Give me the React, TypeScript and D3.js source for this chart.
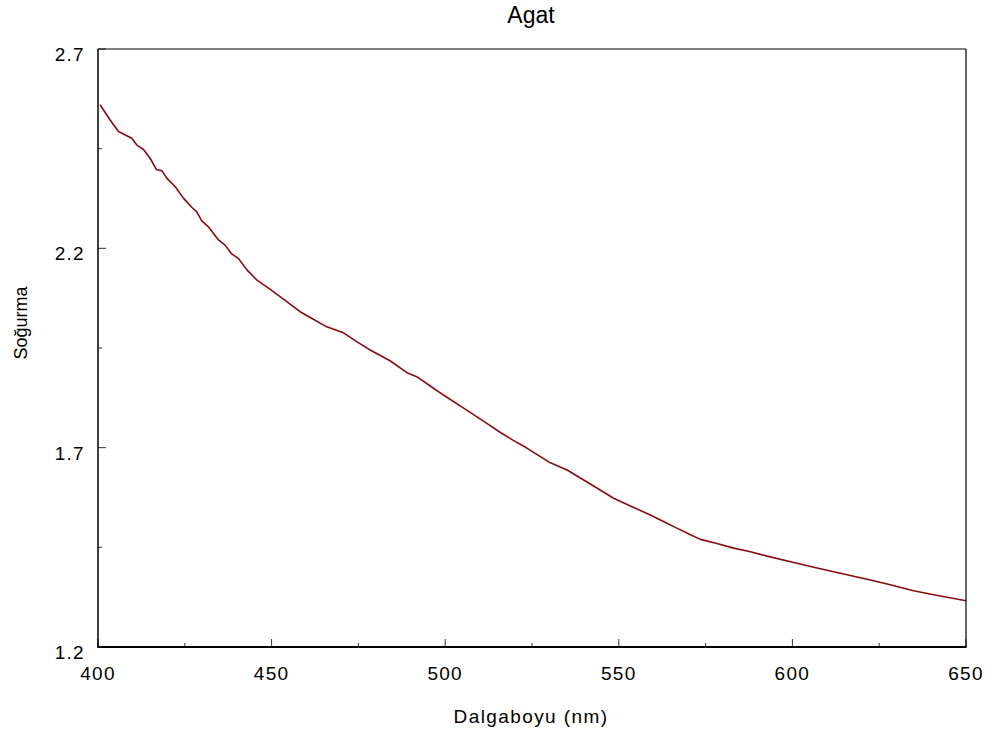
import React from "react";
import * as d3 from "d3";

// Absorbance spectrum of agate
const wavelengths = [
  400.6, 403.5, 405.9, 409.7, 411.2, 413.1, 415.0, 416.9, 418.4, 419.8,
  422.2, 424.6, 427.0, 428.4, 429.9, 431.8, 434.7, 436.6, 438.5, 440.4,
  442.9, 445.7, 449.6, 453.5, 458.2, 462.0, 465.9, 470.7, 474.5, 478.4,
  484.1, 489.0, 491.8, 495.5, 499.5, 505.3, 512.0, 515.9, 519.5, 523.5,
  530.3, 535.1, 541.8, 548.5, 553.5, 559.1, 563.0, 567.0, 570.5, 573.5,
  578.0, 583.1, 587.9, 592.7, 600.4, 607.1, 613.8, 621.5, 627.3, 634.9,
  640.7, 650.0,
];
const absorbance = [
  2.560, 2.522, 2.493, 2.476, 2.459, 2.448, 2.426, 2.397, 2.395, 2.376,
  2.355, 2.326, 2.303, 2.292, 2.269, 2.254, 2.221, 2.208, 2.186, 2.175,
  2.146, 2.121, 2.097, 2.072, 2.041, 2.022, 2.003, 1.988, 1.966, 1.945,
  1.918, 1.888, 1.878, 1.856, 1.832, 1.799, 1.761, 1.738, 1.719, 1.699,
  1.662, 1.644, 1.609, 1.573, 1.553, 1.531, 1.514, 1.497, 1.482, 1.470,
  1.460, 1.448, 1.439, 1.428, 1.412, 1.398, 1.385, 1.370, 1.358, 1.341,
  1.331, 1.316,
];

const xMajorTicks = [400, 450, 500, 550, 600, 650];
const xMinorTicks = [425, 475, 525, 575, 625];
const yMajorTicks = [1.2, 1.7, 2.2, 2.7];
const yMinorTicks = [1.45, 1.95, 2.45];

const title = "Agat";
const xTitle = "Dalgaboyu (nm)";
const yTitle = "Soğurma";

const W = 993;
const H = 740;
const left = 98;
const right = 966;
const top = 49;
const bottom = 647;
const font = "'Liberation Sans', Arial, sans-serif";

export default function App() {
  const x = d3.scaleLinear().domain([400, 650]).range([left, right]);
  const y = d3.scaleLinear().domain([1.2, 2.7]).range([bottom, top]);
  const pts = wavelengths.map((w, i) => [w, absorbance[i]] as [number, number]);
  const line = d3
    .line<[number, number]>()
    .x((d) => x(d[0]))
    .y((d) => y(d[1]));

  return (
    <svg
      width={W}
      height={H}
      style={{ position: "absolute", left: 0, top: 0, background: "#fff" }}
    >
      <rect x={0} y={0} width={W} height={H} fill="#fff" />
      <text
        x={531}
        y={23}
        textAnchor="middle"
        fontFamily={font}
        fontSize={23}
        fill="#000"
      >
        {title}
      </text>

      {/* ticks, pointing inward */}
      {xMajorTicks.map((t) => (
        <line key={"xM" + t} x1={x(t)} x2={x(t)} y1={bottom} y2={bottom - 8} stroke="#333" strokeWidth={1} />
      ))}
      {xMinorTicks.map((t) => (
        <line key={"xm" + t} x1={x(t)} x2={x(t)} y1={bottom} y2={bottom - 4} stroke="#333" strokeWidth={1} />
      ))}
      {yMajorTicks.map((t) => (
        <line key={"yM" + t} x1={left} x2={left + 8} y1={y(t)} y2={y(t)} stroke="#333" strokeWidth={1} />
      ))}
      {yMinorTicks.map((t) => (
        <line key={"ym" + t} x1={left} x2={left + 4} y1={y(t)} y2={y(t)} stroke="#333" strokeWidth={1} />
      ))}

      {/* tick labels */}
      {xMajorTicks.map((t) => (
        <text
          key={"xl" + t}
          x={x(t)}
          y={680}
          textAnchor="middle"
          fontFamily={font}
          fontSize={19}
          letterSpacing={1.3}
          fill="#000"
        >
          {String(t)}
        </text>
      ))}
      {yMajorTicks.map((t) => (
        <text
          key={"yl" + t}
          x={85}
          y={y(t) + 12}
          textAnchor="end"
          fontFamily={font}
          fontSize={19}
          letterSpacing={1.3}
          fill="#000"
        >
          {t.toFixed(1)}
        </text>
      ))}

      {/* axis titles */}
      <text
        x={531}
        y={723}
        textAnchor="middle"
        fontFamily={font}
        fontSize={19}
        letterSpacing={1.4}
        fill="#000"
      >
        {xTitle}
      </text>
      <text
        transform={`translate(27, 323) rotate(-90)`}
        textAnchor="middle"
        fontFamily={font}
        fontSize={18}
        fill="#000"
      >
        {yTitle}
      </text>

      {/* data curve */}
      <path d={line(pts) || ""} fill="none" stroke="#8b0a0a" strokeWidth={1.6} strokeLinejoin="round" />

      {/* frame */}
      <line x1={left} x2={right} y1={top} y2={top} stroke="#000" strokeWidth={1} />
      <line x1={right} x2={right} y1={top} y2={bottom} stroke="#000" strokeWidth={1.2} />
      <line x1={left} x2={left} y1={top} y2={bottom} stroke="#000" strokeWidth={1.5} />
      <line x1={left - 0.75} x2={right + 0.6} y1={bottom} y2={bottom} stroke="#000" strokeWidth={2} />
    </svg>
  );
}
